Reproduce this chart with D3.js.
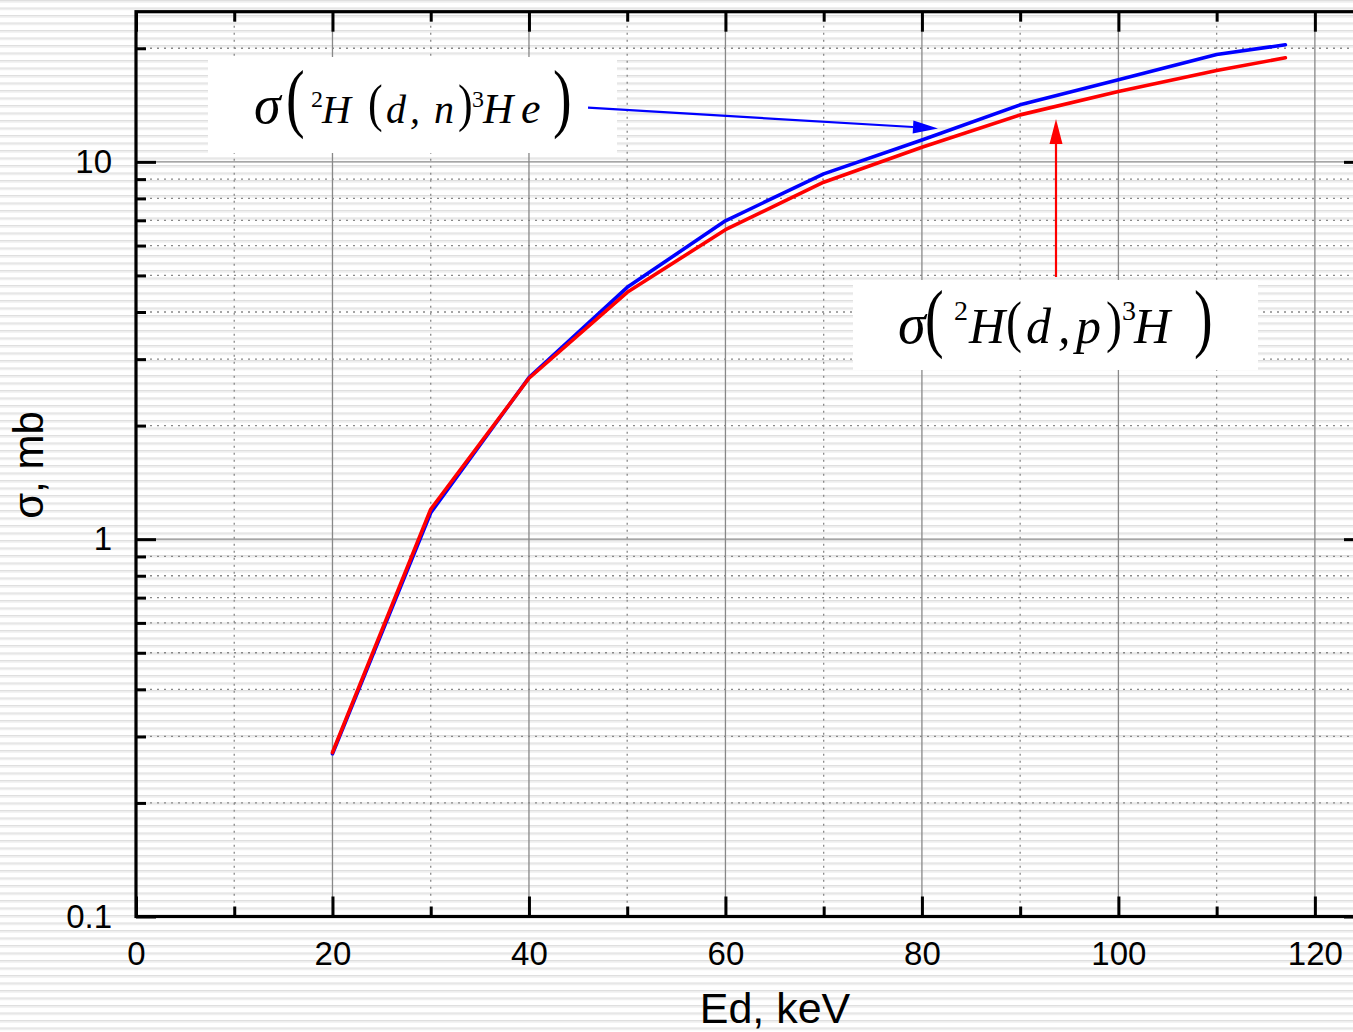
<!DOCTYPE html>
<html>
<head>
<meta charset="utf-8">
<script src="https://cdn.jsdelivr.net/npm/d3@7"></script>
<style>
	html, body { margin: 0; padding: 0; background: #fff; }
	svg { display: block; }
	.tick text { font-family: "Liberation Sans", Arial, sans-serif; font-size: 33px; fill: #000; }
</style>
</head>
<body>
<svg id="plot" width="1353" height="1032"></svg>
<script>

// cross sections (Ed in keV, sigma in mb)
const energy = [20, 30, 40, 50, 60, 70, 80, 90, 100, 110, 117];
const sigma_dn = [0.27, 1.175, 2.68, 4.65, 6.98, 9.29, 11.43, 14.16, 16.5, 19.25, 20.43];
const sigma_dp = [0.272, 1.2, 2.67, 4.51, 6.61, 8.83, 10.93, 13.32, 15.36, 17.46, 18.87];

const x_major = [0, 20, 40, 60, 80, 100, 120];
const x_minor = [10, 30, 50, 70, 90, 110];
const y_major = [0.1, 1, 10];
const y_minor = [0.2, 0.3, 0.4, 0.5, 0.6, 0.7, 0.8, 0.9, 2, 3, 4, 5, 6, 7, 8, 9, 20];

const x_label = "Ed, keV";
const y_label = "σ, mb";

const svg = d3.select("#plot");
const W = 1353, H = 1032;
const m_left = 136, m_right = 1364, m_top = 11.7, m_bottom = 916.5;

const x = d3.scaleLinear().domain([0, 125]).range([m_left, m_right]);
const y = d3.scaleLog().domain([0.1, 25]).range([m_bottom, m_top]);

// striped background
const defs = svg.append("defs");
const pat = defs.append("pattern")
	.attr("id", "stripes")
	.attr("patternUnits", "userSpaceOnUse")
	.attr("width", 20).attr("height", 7.5);
pat.append("rect").attr("width", 20).attr("height", 7.5).attr("fill", "#fff");
pat.append("rect").attr("y", 0).attr("width", 20).attr("height", 1.3).attr("fill", "#dedede");
pat.append("rect").attr("y", 1.3).attr("width", 20).attr("height", 1.3).attr("fill", "#ececec");
svg.append("rect").attr("width", W).attr("height", H).attr("fill", "url(#stripes)");

// grid
const grid = svg.append("g").attr("stroke", "#888").attr("fill", "none");
grid.selectAll(".vmaj").data(x_major.filter(d => d > 0)).enter().append("line")
	.attr("x1", d => x(d)).attr("x2", d => x(d)).attr("y1", m_top).attr("y2", m_bottom)
	.attr("stroke-width", 1.3);
grid.selectAll(".vmin").data(x_minor).enter().append("line")
	.attr("x1", d => x(d)).attr("x2", d => x(d)).attr("y1", m_top).attr("y2", m_bottom)
	.attr("stroke-width", 1.3).attr("stroke-dasharray", "2,5");
grid.selectAll(".hmaj").data(y_major.filter(d => d > 0.1)).enter().append("line")
	.attr("y1", d => y(d)).attr("y2", d => y(d)).attr("x1", m_left).attr("x2", m_right)
	.attr("stroke-width", 1.3);
grid.selectAll(".hmin").data(y_minor).enter().append("line")
	.attr("y1", d => y(d)).attr("y2", d => y(d)).attr("x1", m_left).attr("x2", m_right)
	.attr("stroke-width", 1.3).attr("stroke-dasharray", "2,5");

// curves, blue first so red sits on top
const line = d3.line().x(d => x(d[0])).y(d => y(d[1]));
svg.append("path")
	.attr("d", line(d3.zip(energy, sigma_dn)))
	.attr("fill", "none").attr("stroke", "#0000ff").attr("stroke-width", 3.6)
	.attr("stroke-linejoin", "round").attr("stroke-linecap", "round");
svg.append("path")
	.attr("d", line(d3.zip(energy, sigma_dp)))
	.attr("fill", "none").attr("stroke", "#ff0000").attr("stroke-width", 3.6)
	.attr("stroke-linejoin", "round").attr("stroke-linecap", "round");

// axes
function styleAxis(g) {
	g.select(".domain").remove();
	g.selectAll(".tick line").attr("stroke", "#000").attr("stroke-width", 3);
}
svg.append("g").attr("transform", `translate(0,${m_bottom})`)
	.call(d3.axisBottom(x).tickValues(x_major).tickSize(-20).tickPadding(25).tickFormat(d3.format("d")))
	.call(styleAxis);
svg.append("g").attr("transform", `translate(0,${m_bottom})`)
	.call(d3.axisBottom(x).tickValues(x_minor).tickSize(-10).tickFormat(""))
	.call(styleAxis);
svg.append("g").attr("transform", `translate(0,${m_top})`)
	.call(d3.axisTop(x).tickValues(x_major).tickSize(-20).tickFormat(""))
	.call(styleAxis);
svg.append("g").attr("transform", `translate(0,${m_top})`)
	.call(d3.axisTop(x).tickValues(x_minor).tickSize(-10).tickFormat(""))
	.call(styleAxis);
svg.append("g").attr("transform", `translate(${m_left},0)`)
	.call(d3.axisLeft(y).tickValues(y_major).tickSize(-20).tickPadding(24).tickFormat(d3.format("~g")))
	.call(styleAxis);
svg.append("g").attr("transform", `translate(${m_left},0)`)
	.call(d3.axisLeft(y).tickValues(y_minor).tickSize(-10).tickFormat(""))
	.call(styleAxis);
svg.append("g").attr("transform", `translate(${m_right},0)`)
	.call(d3.axisRight(y).tickValues(y_major).tickSize(-20).tickFormat(""))
	.call(styleAxis);
svg.append("g").attr("transform", `translate(${m_right},0)`)
	.call(d3.axisRight(y).tickValues(y_minor).tickSize(-10).tickFormat(""))
	.call(styleAxis);

svg.append("rect")
	.attr("x", m_left).attr("y", m_top).attr("width", m_right - m_left).attr("height", m_bottom - m_top)
	.attr("fill", "none").attr("stroke", "#000").attr("stroke-width", 3.2);

// axis titles
svg.append("text")
	.attr("x", 775).attr("y", 1023).attr("text-anchor", "middle")
	.style("font-family", "'Liberation Sans', Arial, sans-serif").style("font-size", "43px")
	.text(x_label);
svg.append("text")
	.attr("transform", "translate(43,465) rotate(-90)").attr("text-anchor", "middle")
	.style("font-family", "'Liberation Sans', Arial, sans-serif").style("font-size", "42px")
	.text(y_label);

// formula labels: [glyph, x, baseline, size, italic, vertical stretch]
function formula(g, pieces) {
	pieces.forEach(p => {
		g.append("text")
			.attr("transform", `translate(${p[1]},${p[2]}) scale(1,${p[5] || 1})`)
			.style("font-family", "'Liberation Serif', 'Times New Roman', serif")
			.style("font-style", p[4] ? "italic" : "normal")
			.style("font-size", p[3] + "px")
			.text(p[0]);
	});
}

const lab1 = svg.append("g");
lab1.append("rect").attr("x", 208).attr("y", 57).attr("width", 409).attr("height", 96).attr("fill", "#fff");
formula(lab1, [
	["σ", 254, 123, 54, true],
	["(", 286, 123.4, 56, false, 1.35],
	["2", 311, 107, 24, false],
	["H", 322, 123, 40, true],
	["(", 368, 121.4, 44, false, 1.2],
	["d", 386, 123, 40, true],
	[",", 410, 123, 40, true],
	["n", 434, 123, 40, true],
	[")", 458, 121.4, 44, false, 1.2],
	["3", 472, 107, 24, false],
	["H", 483, 123, 42, true],
	["e", 521, 123, 44, true],
	[")", 553, 123.4, 56, false, 1.35]
]);

const lab2 = svg.append("g");
lab2.append("rect").attr("x", 853).attr("y", 280).attr("width", 405).attr("height", 90).attr("fill", "#fff");
formula(lab2, [
	["σ", 898, 343, 56, true],
	["(", 925, 343.4, 56, false, 1.35],
	["2", 954, 320, 28, false],
	["H", 969, 343, 50, true],
	["(", 1006, 340.6, 48, false, 1.17],
	["d", 1026, 343, 50, true],
	[",", 1058, 343, 50, true],
	["p", 1076, 343, 50, true],
	[")", 1106, 340.6, 48, false, 1.17],
	["3", 1122, 320, 28, false],
	["H", 1134, 343, 50, true],
	[")", 1194, 343.4, 56, false, 1.35]
]);

// arrows pointing from the labels to the curves
function arrow(x1, y1, x2, y2, color) {
	const a = Math.atan2(y2 - y1, x2 - x1), len = 25, half = 6.5;
	const bx = x2 - len * Math.cos(a), by = y2 - len * Math.sin(a);
	svg.append("line").attr("x1", x1).attr("y1", y1).attr("x2", bx).attr("y2", by)
		.attr("stroke", color).attr("stroke-width", 2.2);
	svg.append("path")
		.attr("d", `M${x2},${y2}L${bx - half * Math.sin(a)},${by + half * Math.cos(a)}L${bx + half * Math.sin(a)},${by - half * Math.cos(a)}Z`)
		.attr("fill", color);
}
arrow(588, 107.7, 938, 128.5, "#0000ff");
arrow(1056, 277, 1056, 119, "#ff0000");

</script>
</body>
</html>
